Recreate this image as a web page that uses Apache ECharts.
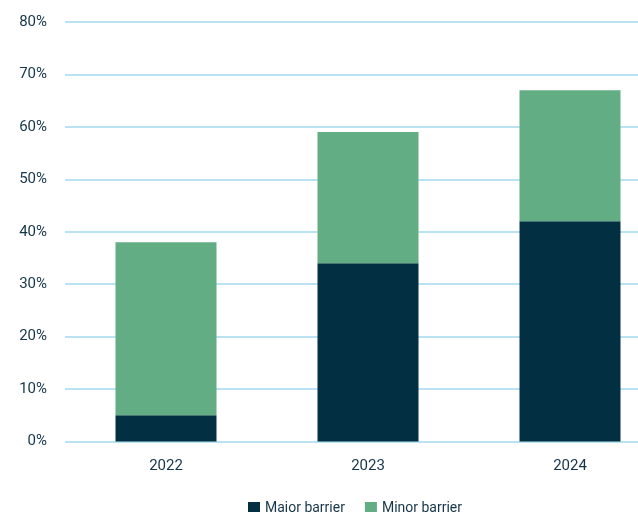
<!DOCTYPE html>
<html>
<head>
<meta charset="utf-8">
<script src="https://cdn.jsdelivr.net/npm/echarts@6/dist/echarts.min.js"></script>
<style>
  html, body { margin: 0; padding: 0; background: #fff; overflow: hidden; }
  /* the drawing is wider than the window; its right edge is cut off */
  #chart { width: 671px; height: 512px; }
</style>
</head>
<body>
<div id="chart"></div>
<script>
// Share of respondents citing each barrier, by year
const years = ['2022', '2023', '2024'];
const majorBarrier = [5, 34, 42];
const minorBarrier = [33, 25, 25];
const yTicks = { min: 0, max: 80, interval: 10 };

const FONT = "'Roboto', 'Liberation Sans', sans-serif";
const TEXT = '#163548';

const chart = echarts.init(document.getElementById('chart'));
chart.setOption({
  animation: false,
  textStyle: { fontFamily: FONT },
  grid: { left: 65, top: 22, bottom: 70.5, right: 0 },
  legend: {
    top: 496,
    left: 243,
    itemWidth: 12,
    itemHeight: 12,
    itemGap: 20,
    icon: 'rect',
    textStyle: { fontFamily: FONT, fontSize: 14, color: TEXT },
    data: ['Major barrier', 'Minor barrier']
  },
  xAxis: {
    type: 'category',
    data: years,
    axisLine: { show: false },
    axisTick: { show: false },
    axisLabel: { fontFamily: FONT, fontSize: 15, color: TEXT, margin: 17 }
  },
  yAxis: {
    type: 'value',
    min: yTicks.min,
    max: yTicks.max,
    interval: yTicks.interval,
    axisLine: { show: false },
    axisTick: { show: false },
    axisLabel: {
      fontFamily: FONT, fontSize: 15, color: TEXT, margin: 18,
      formatter: v => v + '%'
    },
    splitLine: { lineStyle: { color: '#b9e3f3', width: 2 } }
  },
  series: [
    {
      name: 'Major barrier',
      type: 'bar',
      stack: 'total',
      barWidth: '50%',
      itemStyle: { color: '#032f42' },
      data: majorBarrier
    },
    {
      name: 'Minor barrier',
      type: 'bar',
      stack: 'total',
      barWidth: '50%',
      itemStyle: { color: '#62ad84' },
      data: minorBarrier
    }
  ]
});
</script>
</body>
</html>
